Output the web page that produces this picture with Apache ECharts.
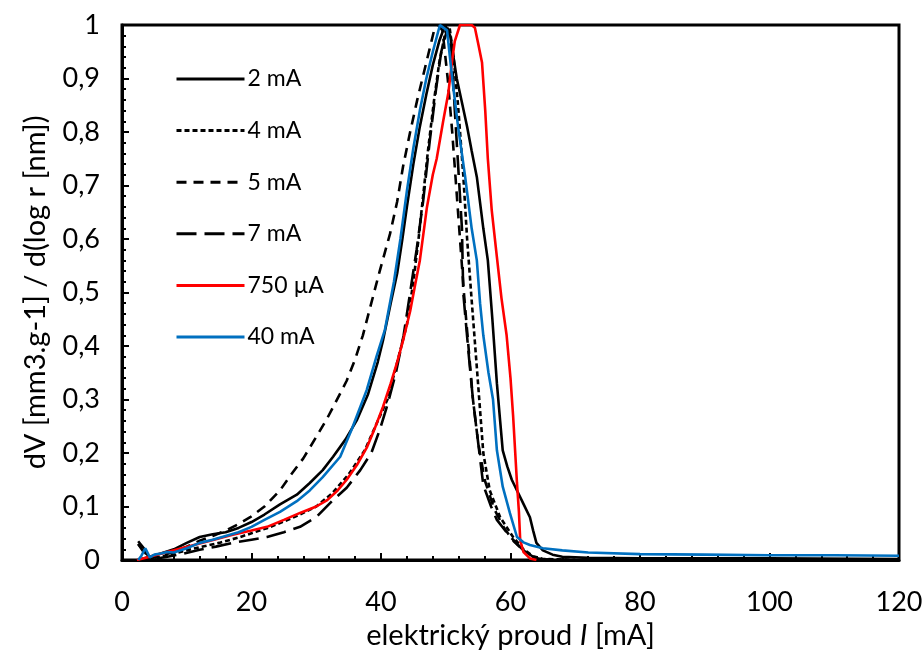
<!DOCTYPE html>
<html>
<head>
<meta charset="utf-8">
<script src="https://cdn.jsdelivr.net/npm/echarts@6/dist/echarts.min.js"></script>
<style>html,body{margin:0;padding:0;background:#fff}#c{width:922px;height:669px}</style>
</head>
<body>
<div id="c"></div>
<script>
const seriesNames = ['2 mA', '4 mA', '5 mA', '7 mA', '750 µA', '40 mA'];
const xTicks = [0, 20, 40, 60, 80, 100, 120];
const yTicks = [0, 0.1, 0.2, 0.3, 0.4, 0.5, 0.6, 0.7, 0.8, 0.9, 1];

const data2mA = [[2.5,0],[4,0.005],[6,0.012],[8,0.02],[10,0.032],[12,0.043],[14,0.048],[16,0.052],[18,0.06],[20,0.071],[22,0.085],[24.4,0.104],[27,0.122],[29,0.144],[31,0.168],[32.6,0.193],[34.5,0.225],[36.3,0.262],[38,0.31],[39.5,0.37],[40.3,0.41],[41.5,0.48],[42.5,0.536],[43.3,0.6],[44,0.66],[45,0.74],[46,0.81],[47,0.87],[48,0.925],[49,0.97],[49.9,1.0],[50.7,0.98],[51.7,0.9],[52.5,0.855],[53.3,0.81],[54,0.765],[54.8,0.716],[55.8,0.62],[56.5,0.56],[57.2,0.45],[57.9,0.33],[58.4,0.26],[58.8,0.205],[59.5,0.175],[60.2,0.15],[61,0.13],[62,0.105],[63,0.08],[63.5,0.055],[64,0.032],[65,0.018],[66.5,0.01],[68,0.006],[72,0.004],[80,0.003],[100,0.003],[120,0.002]];
const data4mA = [[2.5,0.03],[3.5,0.015],[4.2,0.003],[6,0.006],[8,0.012],[10,0.018],[12,0.024],[15,0.032],[18,0.042],[20,0.05],[22.5,0.06],[25,0.072],[27.5,0.085],[30,0.1],[32.5,0.125],[35,0.16],[37.5,0.205],[39.5,0.26],[41,0.3],[42.3,0.36],[44,0.44],[45,0.52],[45.8,0.6],[46.5,0.68],[47.3,0.77],[48.2,0.86],[49,0.93],[50,0.99],[50.6,0.995],[51.2,0.94],[51.9,0.85],[52.7,0.72],[53.3,0.6],[54,0.486],[54.8,0.36],[55.3,0.28],[55.8,0.2],[56.8,0.13],[58.4,0.08],[60.4,0.043],[62,0.02],[63.5,0.007],[65,0.002],[70,0]];
const data5mA = [[2.5,0.03],[3.5,0.012],[4.5,0.003],[6,0.008],[8,0.015],[10,0.025],[12,0.036],[14,0.045],[16,0.055],[18,0.067],[19.8,0.08],[22,0.1],[24.4,0.13],[26,0.158],[28,0.19],[30,0.23],[31.7,0.265],[33,0.295],[34.7,0.335],[36,0.375],[37.2,0.42],[38.5,0.48],[39.8,0.54],[41.4,0.61],[42.5,0.67],[43.4,0.735],[44.5,0.8],[45.6,0.86],[47,0.93],[48.2,0.99],[48.8,1.0],[49.5,0.99],[50.3,0.9],[51,0.8],[51.6,0.7],[52.2,0.6],[52.8,0.5],[53.5,0.4],[54.2,0.3],[55,0.22],[56,0.15],[57.5,0.095],[59,0.06],[60.5,0.035],[62,0.018],[63.5,0.006],[65,0.001],[70,0]];
const data7mA = [[2.5,0.035],[3.5,0.02],[4.2,0.003],[5,0.002],[7,0.006],[9.5,0.012],[12,0.019],[14.5,0.025],[17.1,0.032],[20,0.038],[22.4,0.043],[25,0.052],[27.5,0.062],[30,0.08],[32.6,0.112],[34.7,0.135],[36.8,0.168],[38.5,0.2],[39.8,0.243],[41,0.29],[42.3,0.35],[43.5,0.42],[44.5,0.5],[45.5,0.58],[46.5,0.67],[47.5,0.78],[48.5,0.88],[49.3,0.95],[50.3,0.995],[50.9,0.95],[51.4,0.84],[52,0.72],[52.5,0.62],[52.7,0.5],[53.5,0.39],[54.2,0.3],[54.8,0.24],[55.8,0.14],[57,0.1],[57.9,0.075],[59.5,0.05],[61,0.03],[62.3,0.015],[63.5,0.005],[65,0.001],[70,0]];
const data750uA = [[2.3,0],[4,0.005],[7,0.015],[9.5,0.023],[12,0.031],[14.5,0.039],[17.1,0.047],[20,0.055],[22.4,0.062],[25,0.075],[27.5,0.088],[30,0.1],[31.7,0.112],[33.3,0.13],[34.7,0.15],[36.3,0.178],[37.8,0.21],[39,0.245],[40.3,0.286],[41.5,0.33],[42.5,0.37],[43.4,0.41],[44.5,0.465],[45.2,0.51],[46,0.56],[47.1,0.66],[48,0.72],[48.6,0.75],[49.6,0.82],[50.2,0.86],[50.4,0.873],[51,0.935],[51.4,0.97],[52.2,1.0],[53,1.0],[54,1.0],[54.5,0.995],[55,0.966],[55.6,0.93],[56.1,0.84],[56.5,0.75],[57.1,0.654],[57.9,0.566],[58.6,0.49],[59.4,0.42],[60,0.34],[60.4,0.27],[61,0.144],[61.3,0.09],[61.5,0.037],[62,0.015],[63,0.003],[64,0]];
const data40mA = [[2.5,0],[3,0.008],[3.6,0.022],[4.3,0.005],[5,0.01],[6,0.012],[7,0.015],[8,0.014],[10,0.022],[12,0.032],[14,0.038],[16,0.045],[18,0.052],[20,0.062],[22,0.075],[24.4,0.09],[27,0.11],[29,0.13],[31,0.155],[33.7,0.193],[35.5,0.245],[37.8,0.318],[39.3,0.38],[40.6,0.43],[42,0.52],[43,0.6],[44,0.69],[45,0.77],[46,0.84],[47,0.9],[48,0.95],[49.1,1.0],[50.2,0.99],[51,0.9],[51.9,0.81],[53,0.716],[54,0.62],[54.8,0.56],[55.3,0.48],[55.8,0.42],[56.6,0.35],[57.3,0.3],[57.9,0.205],[58.8,0.137],[59.9,0.088],[61,0.043],[62,0.033],[63,0.028],[65,0.022],[68,0.018],[72,0.014],[80,0.011],[90,0.01],[100,0.009],[110,0.009],[120,0.008]];

const FONT = 'Lato';
const chart = echarts.init(document.getElementById('c'), null, {renderer: 'canvas'});

function mk(name, data, color, type) {
  return {
    name: name, type: 'line', data: data, symbol: 'none', smooth: false,
    lineStyle: {color: color, width: 2.6, type: type},
    itemStyle: {color: color},
    emphasis: {disabled: true}
  };
}

chart.setOption({
  animation: false,
  backgroundColor: '#fff',
  textStyle: {fontFamily: FONT},
  grid: {left: 122, right: 23, top: 25, bottom: 109, show: true, borderColor: '#000', borderWidth: 3,
    containLabel: false, outerBoundsMode: 'none'},
  legend: {
    orient: 'vertical', left: 175, top: 67, padding: 0,
    itemWidth: 68, itemHeight: 24, itemGap: 27.6,
    itemStyle: {opacity: 0},
    lineStyle: {width: 3},
    textStyle: {fontFamily: FONT, fontSize: 23, color: '#000', lineHeight: 24, padding: [0, 0, 0, -2]},
    data: seriesNames
  },
  xAxis: {
    type: 'value', min: xTicks[0], max: xTicks[xTicks.length - 1], interval: 20,
    axisLine: {show: true, onZero: false, lineStyle: {color: '#000', width: 3}},
    axisTick: {show: true, inside: true, length: 7, lineStyle: {color: '#000', width: 2}},
    minorTick: {show: true, splitNumber: 5, length: 4, lineStyle: {color: '#000', width: 2}},
    splitLine: {show: false},
    axisLabel: {color: '#000', fontSize: 27, fontFamily: FONT, margin: 29},
    name: '{a|elektrický proud }{i|I}{a| [mA]}',
    nameLocation: 'middle', nameGap: 49,
    nameTextStyle: {rich: {a: {fontSize: 29, fontFamily: FONT, color: '#000'}, i: {fontSize: 29, fontFamily: FONT, fontStyle: 'italic', color: '#000'}}}
  },
  yAxis: {
    type: 'value', min: yTicks[0], max: yTicks[yTicks.length - 1], interval: 0.1,
    axisLine: {show: true, lineStyle: {color: '#000', width: 3}},
    axisTick: {show: true, inside: true, length: 7, lineStyle: {color: '#000', width: 2}},
    minorTick: {show: true, splitNumber: 5, length: 4, lineStyle: {color: '#000', width: 2}},
    splitLine: {show: false},
    axisLabel: {color: '#000', fontSize: 27, fontFamily: FONT, margin: 22,
      formatter: function (v) { return String(Number(v.toFixed(1))).replace('.', ','); }},
    name: 'dV [mm3.g-1] / d(log r [nm])',
    nameLocation: 'middle', nameGap: 72,
    nameTextStyle: {fontSize: 29, fontFamily: FONT, color: '#000'}
  },
  series: [
    mk(seriesNames[0], data2mA, '#000000', 'solid'),
    mk(seriesNames[1], data4mA, '#000000', [5, 3]),
    mk(seriesNames[2], data5mA, '#000000', [10, 7]),
    mk(seriesNames[3], data7mA, '#000000', [20, 8]),
    mk(seriesNames[4], data750uA, '#ff0000', 'solid'),
    mk(seriesNames[5], data40mA, '#0070c0', 'solid')
  ]
});
</script>
</body>
</html>
